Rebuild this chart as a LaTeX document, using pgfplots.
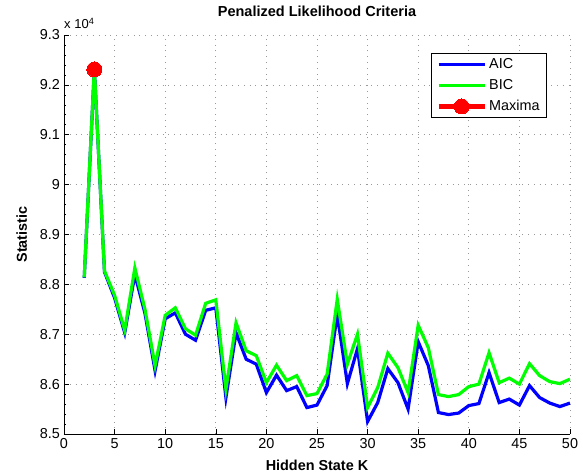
\documentclass[border=0pt]{standalone}
\usepackage{fontspec}
\setmainfont{Liberation Sans}
\usepackage{pgfplots}
\pgfplotsset{compat=1.18}
\pgfplotstableread{
K AIC BIC
2 8.813 8.814
3 9.231 9.232
4 8.825 8.827
5 8.773 8.778
6 8.703 8.708
7 8.820 8.833
8 8.742 8.750
9 8.627 8.637
10 8.731 8.738
11 8.743 8.753
12 8.700 8.711
13 8.688 8.698
14 8.748 8.762
15 8.753 8.769
16 8.573 8.590
17 8.703 8.723
18 8.650 8.667
19 8.640 8.657
20 8.583 8.603
21 8.618 8.638
22 8.587 8.607
23 8.595 8.617
24 8.553 8.577
25 8.558 8.581
26 8.597 8.620
27 8.740 8.770
28 8.601 8.640
29 8.671 8.700
30 8.525 8.553
31 8.563 8.593
32 8.631 8.662
33 8.603 8.633
34 8.550 8.583
35 8.685 8.718
36 8.637 8.673
37 8.543 8.579
38 8.539 8.575
39 8.542 8.579
40 8.557 8.595
41 8.561 8.600
42 8.623 8.663
43 8.563 8.603
44 8.570 8.612
45 8.558 8.600
46 8.597 8.641
47 8.573 8.617
48 8.562 8.605
49 8.555 8.601
50 8.562 8.610
}\datatable
\begin{document}
\begin{tikzpicture}
\begin{axis}[
  scale only axis, width=506pt, height=399pt,
  xmin=0, xmax=50, ymin=8.5, ymax=9.3,
  xtick={0,5,10,15,20,25,30,35,40,45,50},
  ytick={8.5,8.6,8.7,8.8,8.9,9.0,9.1,9.2,9.3},
  yticklabels={8.5,8.6,8.7,8.8,8.9,9,9.1,9.2,9.3},
  axis x line*=bottom, axis y line*=left,
  axis line style={line width=0.9pt, -},
  tick align=inside,
  major tick length=5pt,
  minor y tick num=4,
  minor tick length=2.5pt,
  tick style={black, line width=0.6pt},
  grid=major,
  major grid style={gray!80, line width=0.7pt, dash pattern=on 0.8pt off 5pt},
  /pgf/number format/assume math mode=true,
  ticklabel style={font=\fontsize{14.4}{16}\selectfont},
  xticklabel style={yshift=-1pt},
  yticklabel style={xshift=-0.5pt},
  title={\bfseries Penalized Likelihood Criteria},
  title style={font=\fontsize{14.5}{16}\selectfont, at={(0.5,1)}, anchor=base, yshift=12pt},
  xlabel={\bfseries Hidden State K},
  xlabel style={font=\fontsize{14.4}{16}\selectfont, at={(0.5,0)}, anchor=base, yshift=-37pt},
  legend cell align=left,
  legend style={at={(0.9545,0.955)}, anchor=north east, draw=black, line width=0.8pt,
    font=\fontsize{14.4}{16}\selectfont, inner xsep=5pt, inner ysep=3pt, row sep=5.5pt},
  legend image code/.code={\draw[mark repeat=2,mark phase=2] plot coordinates {(0pt,0pt)(23pt,0pt)(46pt,0pt)};},
]
\addplot[blue, line width=3.2pt] table[x=K, y=AIC] {\datatable};
\addlegendentry{AIC}
\addplot[green, line width=3.2pt] table[x=K, y=BIC] {\datatable};
\addlegendentry{BIC}
\addplot[red, line width=5pt, mark=*, mark size=7.5pt, mark options={solid, fill=red, draw=red, line width=0pt}] coordinates {(3,9.231)};
\addlegendentry{Maxima}
\coordinate (O) at (rel axis cs:0,0);
\coordinate (T) at (rel axis cs:0,1);
\coordinate (L) at (rel axis cs:0,0.5);
\end{axis}
\node[anchor=base west, inner sep=0pt, font=\fontsize{13}{14}\selectfont] at ([yshift=6pt]T) {x 10\textsuperscript{4}};
\node[rotate=90, anchor=base, inner sep=0pt, font=\fontsize{14.4}{16}\selectfont\bfseries] at ([xshift=-37pt]L) {Statistic};
\pgfresetboundingbox
\path[use as bounding box] (O) ++(-64pt,-39pt) rectangle ++(583pt,473pt);
\end{tikzpicture}
\end{document}
